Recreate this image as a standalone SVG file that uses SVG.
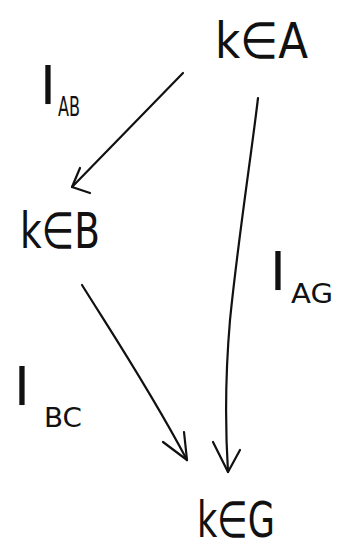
<svg xmlns="http://www.w3.org/2000/svg" width="347" height="550" viewBox="0 0 347 550">
  <style>
    .bg { fill: #ffffff; }
    .set { font-family: "DejaVu Sans", "Liberation Sans", sans-serif; font-size: 50px; fill: #111111; }
    .map { font-family: "DejaVu Sans", "Liberation Sans", sans-serif; font-size: 54px; fill: #111111; }
    .sub { font-family: "DejaVu Sans", "Liberation Sans", sans-serif; font-size: 26px; fill: #111111; }
    .edge { fill: none; stroke: #111111; stroke-width: 2.2; stroke-linecap: round; stroke-linejoin: round; }
  </style>
  <rect class="bg" x="0" y="0" width="347" height="550"/>

  <g id="connectors">
    <!-- A to B -->
    <path class="edge" d="M183,73 L72,187"/>
    <path class="edge" d="M80,168 L72,187 L90,193"/>
    <!-- A to G -->
    <path class="edge" d="M258,98 C252,150 238,240 230,320 C224,390 226,440 228,472"/>
    <path class="edge" d="M213,442 L228,472 L240,450"/>
    <!-- B to G -->
    <path class="edge" d="M82,285 C110,330 150,390 187,460"/>
    <path class="edge" d="M163,442 L187,460 L184,432"/>
  </g>

  <g id="node-A">
    <text class="set" x="215" y="58" textLength="93" lengthAdjust="spacingAndGlyphs">k∈A</text>
  </g>
  <g id="node-B">
    <text class="set" x="20" y="248" textLength="80" lengthAdjust="spacingAndGlyphs">k∈B</text>
  </g>
  <g id="node-G">
    <text class="set" x="197" y="537" textLength="78" lengthAdjust="spacingAndGlyphs">k∈G</text>
  </g>

  <g id="label-AB">
    <text class="map" x="40" y="104">I</text>
    <text class="sub" x="58" y="116" textLength="22" lengthAdjust="spacingAndGlyphs">AB</text>
  </g>
  <g id="label-AG">
    <text class="map" x="270" y="290">I</text>
    <text class="sub" x="291" y="303" textLength="42" lengthAdjust="spacingAndGlyphs">AG</text>
  </g>
  <g id="label-BC">
    <text class="map" x="14" y="405">I</text>
    <text class="sub" x="44" y="427" textLength="38" lengthAdjust="spacingAndGlyphs">BC</text>
  </g>
</svg>
